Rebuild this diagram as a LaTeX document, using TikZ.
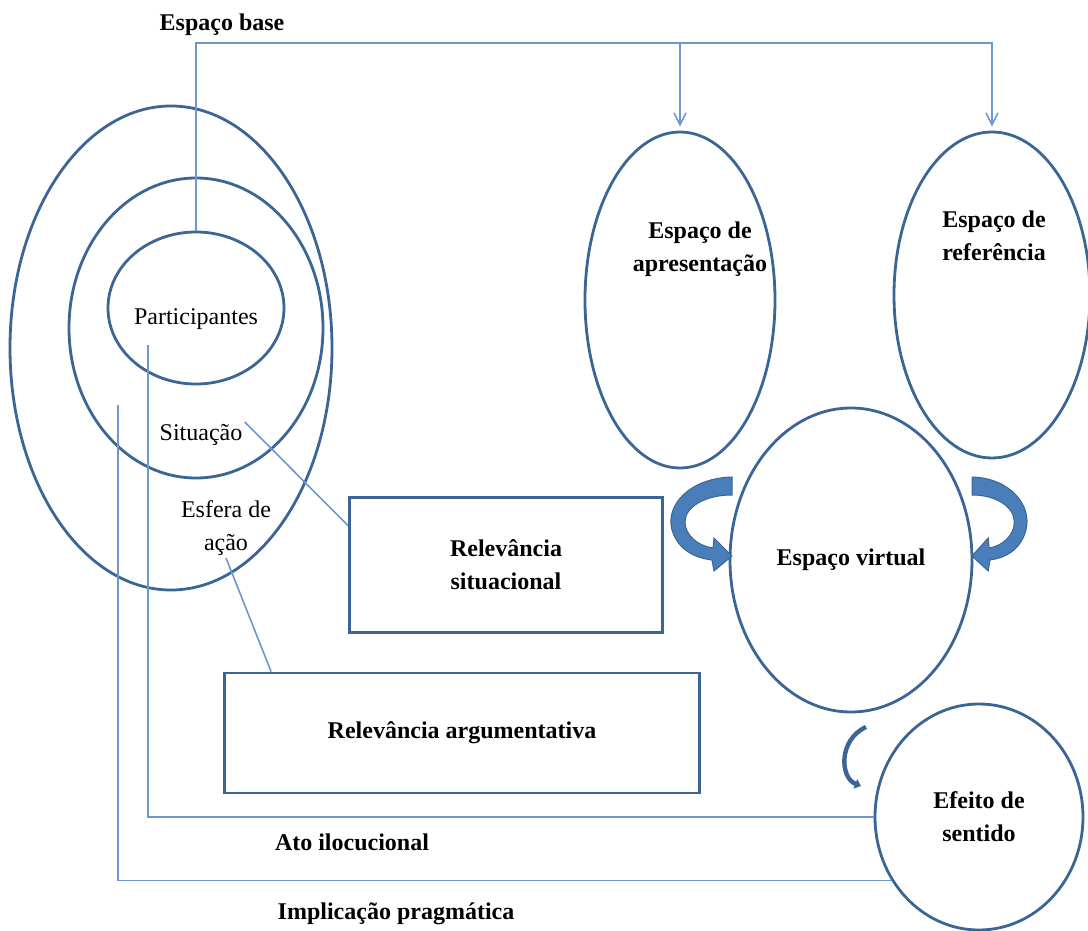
\documentclass[tikz,border=0pt]{standalone}
\usepackage{fontspec}
\setmainfont{Liberation Serif}
\usetikzlibrary{shapes.geometric,arrows.meta,calc}
\definecolor{edge}{HTML}{3A6595}
\definecolor{wire}{HTML}{6F97CC}
\definecolor{bend}{HTML}{4A7EBB}

\begin{document}
\begin{tikzpicture}
[x=0.5pt,y=-0.5pt,>={Straight Barb[length=6pt,width=6pt]},
 oval/.style={draw=edge,line width=1.4pt,ellipse,inner sep=0pt},
 box/.style={draw=edge,line width=1.4pt,rectangle,inner sep=0pt,align=center,font=\fontsize{12}{16.5}\selectfont\bfseries},
 wire/.style={draw=wire,line width=0.8pt},
 curl/.style={fill=bend,draw=edge,line width=0.5pt},
 txt/.style={align=center,inner sep=1pt,font=\fontsize{12}{16.5}\selectfont},
 btxt/.style={txt,font=\fontsize{12}{16.5}\selectfont\bfseries}]

\useasboundingbox (0,0) rectangle (1088,931);

% the ellipses on the left
\node[oval,minimum width=161pt,minimum height=242pt] (esfera) at (171,348) {};
\node[oval,minimum width=127pt,minimum height=150pt] (situacao) at (196,328) {};
\node[oval,minimum width=88pt,minimum height=76pt] (participantes) at (196,308) {};

% the mental spaces
\node[oval,minimum width=95pt,minimum height=168pt] (apresentacao) at (680,300) {};
\node[oval,minimum width=98pt,minimum height=163pt] (referencia) at (992,295) {};
\node[oval,fill=white,minimum width=121pt,minimum height=152pt,font=\fontsize{12}{16.5}\selectfont\bfseries] (virtual) at (851,560) {Espaço virtual};
\node[oval,fill=white,minimum width=104pt,minimum height=113pt,align=center,font=\fontsize{12}{16.5}\selectfont\bfseries] (efeito) at (979,817) {Efeito de\\sentido};

% the boxes
\node[box,minimum width=156.5pt,minimum height=67.5pt] (relsit) at (506,565) {Relevância\\situacional};
\node[box,minimum width=237.5pt,minimum height=60pt] (relarg) at (462,733) {Relevância argumentativa};

% labelling
\node[btxt] (lbase) at (222,25) {Espaço base};
\node[txt] (lpart) at (196,319) {Participantes};
\node[txt] (lsit) at (201,435) {Situação};
\node[txt] (lesf) at (226,528) {Esfera de\\ação};
\node[btxt] (lapres) at (700,249) {Espaço de\\apresentação};
\node[btxt] (lref) at (994,236) {Espaço de\\referência};
\node[btxt] (lato) at (352,842) {Ato ilocucional};
\node[btxt] (limpl) at (396,914) {Implicação pragmática};

% the connectors
\coordinate (corner) at (196,43);
\coordinate (p1) at (148,345);
\coordinate (s1) at (118,405);
\draw[wire,->,shorten >=2pt] (participantes.north) -- (corner) -| (apresentacao.north);
\draw[wire,->,shorten >=2pt] (corner) -| (referencia.north);
\draw[wire] (p1) |- (efeito.west);
\draw[wire] (s1) |- (efeito.216);
\draw[wire] (lsit.north east) -- (relsit.166);
\draw[wire] (lesf.south) -- ($(relarg.north west)+(48,0)$);

% the curved arrows
\begin{scope}[shift={(732,477)}]
\filldraw[curl] (0,0) .. controls (-42,1) and (-67,28) .. (-60,53) .. controls (-54,73) and (-37,81) .. (-20,83) -- (-18,94) -- (0,79) -- (-18,61) -- (-19,71) .. controls (-34,69) and (-47,58) .. (-47,45) .. controls (-47,30) and (-27,18) .. (0,18) -- cycle;
\end{scope}
\begin{scope}[shift={(972,477)},xscale=-0.9]
\filldraw[curl] (0,0) .. controls (-42,1) and (-67,28) .. (-60,53) .. controls (-54,73) and (-37,81) .. (-20,83) -- (-18,94) -- (0,79) -- (-18,61) -- (-19,71) .. controls (-34,69) and (-47,58) .. (-47,45) .. controls (-47,30) and (-27,18) .. (0,18) -- cycle;
\end{scope}
\draw[edge,line width=2.2pt,-{Triangle[length=3pt,width=5pt]}] (866,727) .. controls (838,740) and (840,778) .. (861,786);

\end{tikzpicture}
\end{document}
